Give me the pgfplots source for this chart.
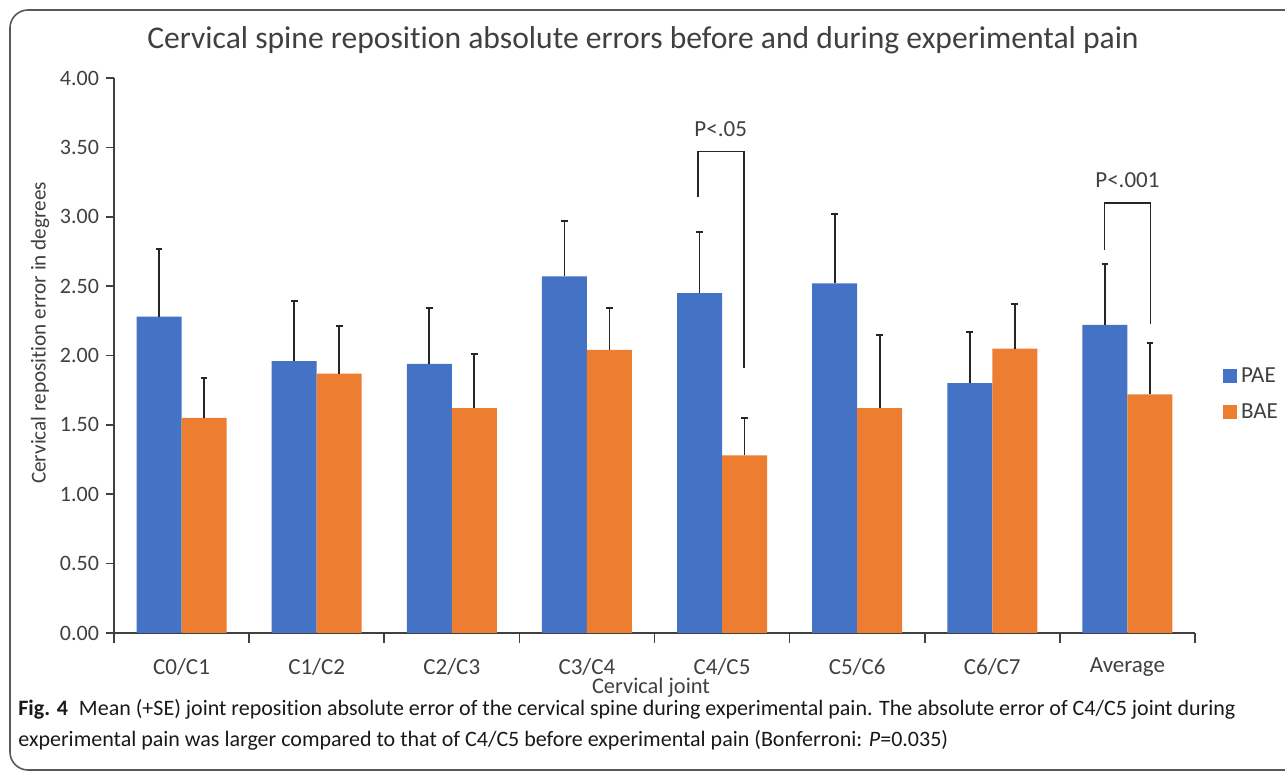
\documentclass[border=0pt]{standalone}
\usepackage{fontspec}
\setmainfont{Carlito}[Ligatures=NoCommon]
\usepackage{pgfplots}
\pgfplotsset{compat=1.18}
\definecolor{pae}{HTML}{4472C4}
\definecolor{bae}{HTML}{ED7D31}
\definecolor{txt}{HTML}{404040}
\definecolor{axl}{HTML}{404040}
\begin{document}
\begin{tikzpicture}[x=1pt,y=1pt]
\clip (-57,-71) rectangle (585.5,316.5);
\draw[black!65, line width=0.8pt, rounded corners=9pt] (-52,-68.5) rectangle (640,311.5);
\begin{axis}[
  at={(0,0)}, anchor=south west,
  scale only axis, width=540.5pt, height=277.5pt,
  xmin=-0.5, xmax=7.5, ymin=0, ymax=4,
  axis x line*=bottom, axis y line*=left,
  axis line style={axl, line width=0.8pt},
  ybar=0pt, bar width=22.5pt,
  xtick={0,...,7},
  xticklabels={C0/C1,C1/C2,C2/C3,C3/C4,C4/C5,C5/C6,C6/C7,Average},
  major x tick style={draw=none},
  minor xtick={-0.5,0.5,...,7.5},
  minor x tick style={axl, line width=0.8pt},
  minor tick length=5pt,
  ytick={0,0.5,...,4},
  y tick style={axl, line width=0.8pt},
  major tick length=4pt,
  tick align=outside,
  xticklabel style={font=\fontsize{11.5}{13}\selectfont, text=txt, yshift=-5pt},
  yticklabel style={font=\fontsize{11}{13}\selectfont, text=txt, /pgf/number format/.cd, fixed, fixed zerofill, precision=2, assume math mode=true},
  legend style={at={(1.02,0.43)}, anchor=west, draw=none, fill=none, font=\fontsize{11.5}{13}\selectfont, text=txt, row sep=5pt},
  legend cell align=left,
  legend image code/.code={\fill[#1] (0pt,-3.5pt) rectangle (7pt,3.5pt);},
  error bars/y dir=plus, error bars/y explicit,
  error bars/error bar style={black!85, line width=0.9pt},
  error bars/error mark options={black!85, line width=0.9pt, mark size=1.7pt, rotate=90},
  clip=false,
]
\addplot[fill=pae, draw=none] coordinates {
  (0,2.28) +- (0,0.49)
  (1,1.96) +- (0,0.43)
  (2,1.94) +- (0,0.40)
  (3,2.57) +- (0,0.40)
  (4,2.45) +- (0,0.44)
  (5,2.52) +- (0,0.50)
  (6,1.80) +- (0,0.37)
  (7,2.22) +- (0,0.44)
};
\addlegendentry{PAE}
\addplot[fill=bae, draw=none] coordinates {
  (0,1.55) +- (0,0.29)
  (1,1.87) +- (0,0.34)
  (2,1.62) +- (0,0.39)
  (3,2.04) +- (0,0.30)
  (4,1.28) +- (0,0.27)
  (5,1.62) +- (0,0.53)
  (6,2.05) +- (0,0.32)
  (7,1.72) +- (0,0.37)
};
\addlegendentry{BAE}
\draw[black!85, line width=0.9pt] (axis cs:3.82,3.14) -- (axis cs:3.82,3.47) -- (axis cs:4.16,3.47) -- (axis cs:4.16,1.91);
\node[text=txt, font=\fontsize{11.5}{13}\selectfont, anchor=base] at (axis cs:3.99,3.58) {P<.05};
\draw[black!85, line width=0.9pt] (axis cs:6.83,2.76) -- (axis cs:6.83,3.10) -- (axis cs:7.17,3.10) -- (axis cs:7.17,2.23);
\node[text=txt, font=\fontsize{11.5}{13}\selectfont, anchor=base] at (axis cs:7.0,3.21) {P<.001};
\end{axis}
\node[text=txt, font=\fontsize{15.8}{18}\selectfont] at (264.5,296.5) {Cervical spine reposition absolute errors before and during experimental pain};
\node[text=txt, font=\fontsize{10.6}{12}\selectfont, rotate=90] at (-37,150) {Cervical reposition error in degrees};
\node[text=txt, font=\fontsize{11.2}{13}\selectfont, inner sep=0pt] at (268.5,-27.5) {Cervical joint};
\node[anchor=west, font=\fontsize{11}{13}\selectfont, text=black!90, inner sep=0pt] at (-48,-38.2) {\textbf{Fig. 4}\enspace Mean (+SE) joint reposition absolute error of the cervical spine during experimental pain. The absolute error of C4/C5 joint during};
\node[anchor=west, font=\fontsize{11}{13}\selectfont, text=black!90, inner sep=0pt] at (-48,-53.5) {experimental pain was larger compared to that of C4/C5 before experimental pain (Bonferroni: \textit{P}=0.035)};
\end{tikzpicture}
\end{document}
